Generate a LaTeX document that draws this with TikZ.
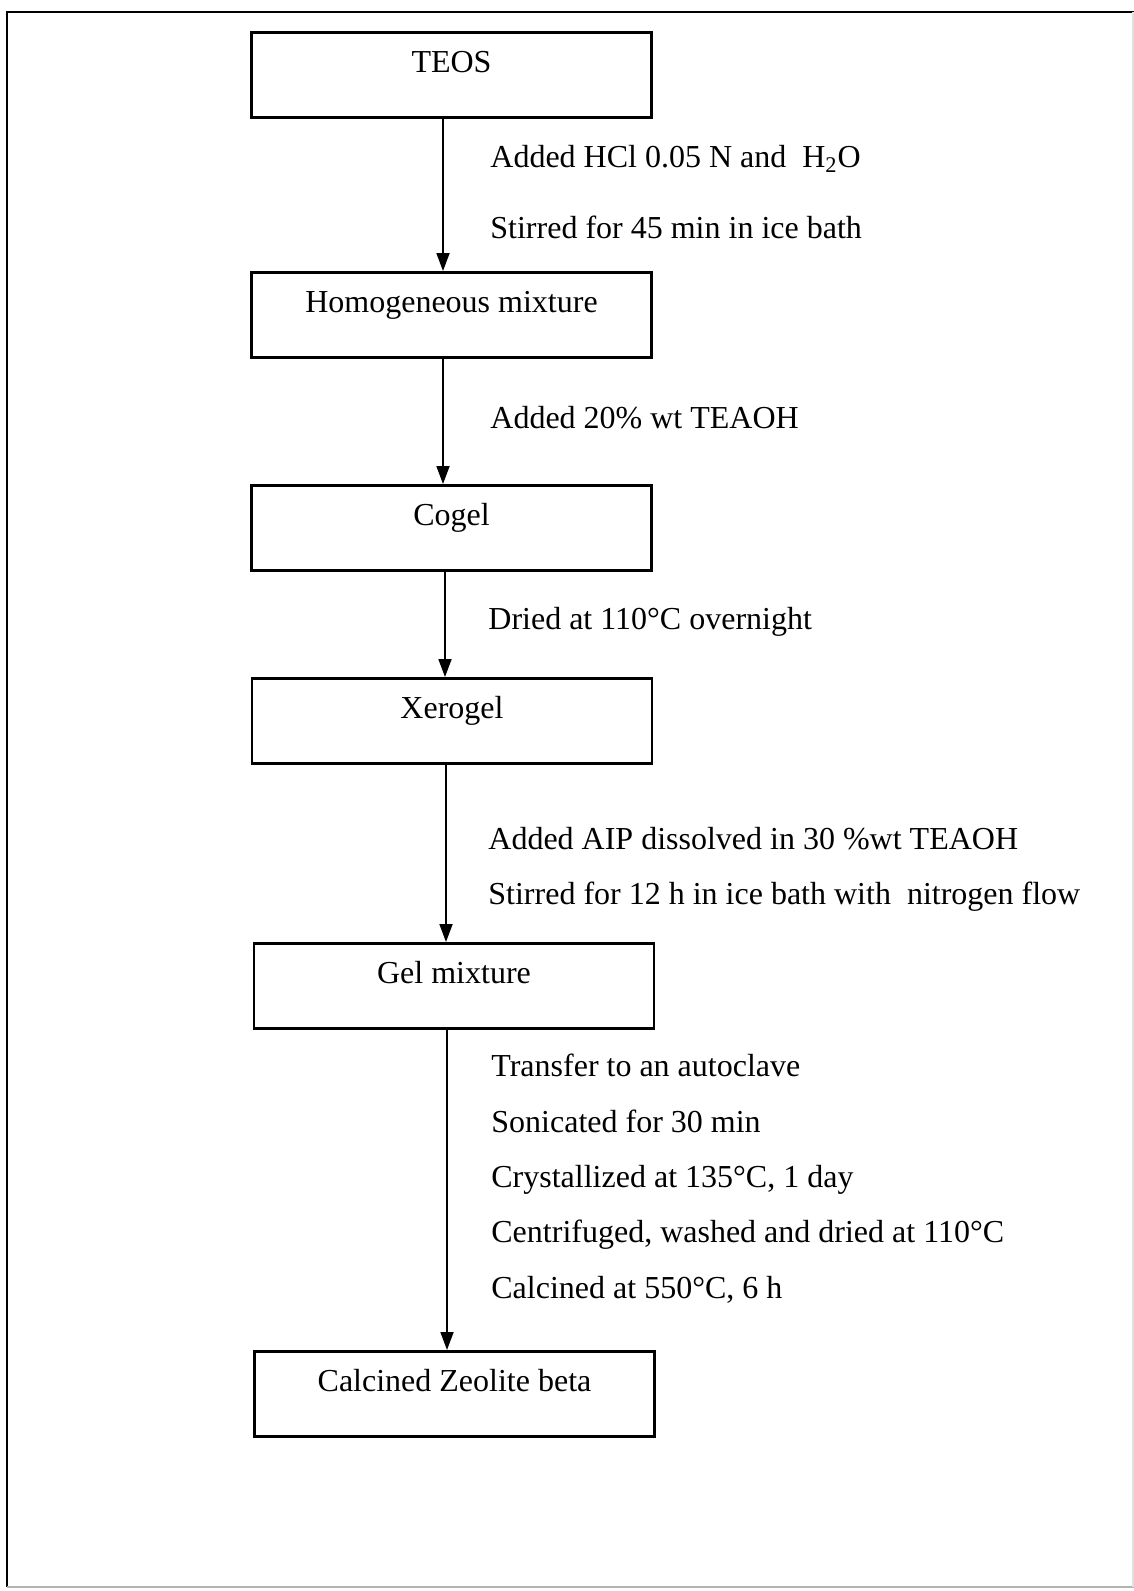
\documentclass[tikz,border=0pt]{standalone}
\usepackage{fontspec}
\setmainfont{Liberation Serif}
\usetikzlibrary{arrows.meta}
\begin{document}
\begin{tikzpicture}[x=0.5pt,y=-0.5pt,
  every node/.style={font=\fontsize{16pt}{19pt}\selectfont},
  stepbox/.style={draw=black,line width=1.3pt,fill=white,anchor=north,
    minimum width=200pt,inner sep=0pt,text height=20pt,text depth=22.5pt},
  lbl/.style={anchor=base west,inner sep=0pt},
  arr/.style={line width=0.9pt,-{Triangle[width=6.5pt,length=9pt]}},
  frameline/.style={line width=1.1pt,black}]
\useasboundingbox (0,0) rectangle (1134,1591);
% outer frame
\draw[frameline] (1134,12) -- (7,12) -- (7,1587);
\draw[line width=0.8pt,black!30] (7,1587) -- (1134,1587);
\draw[line width=0.6pt,black!12] (1133,12) -- (1133,1587);
% boxes
\node[stepbox] (teos)  at (451.5,31)  {TEOS};
\node[stepbox] (homog) at (451.5,271) {Homogeneous mixture};
\node[stepbox] (cogel) at (451.5,484) {Cogel};
\node[stepbox] (xero)  at (452,677)   {Xerogel};
\node[stepbox] (gel)   at (454,942)   {Gel mixture};
\node[stepbox] (calc)  at (454.5,1350) {Calcined Zeolite beta};
% arrows
\draw[arr] ([xshift=-4.25pt]teos.south) -- ([xshift=-4.25pt]teos.south |- homog.north);
\draw[arr] ([xshift=-4.25pt]homog.south) -- ([xshift=-4.25pt]homog.south |- cogel.north);
\draw[arr] ([xshift=-3.25pt]cogel.south) -- ([xshift=-3.25pt]cogel.south |- xero.north);
\draw[arr] ([xshift=-3pt]xero.south) -- ([xshift=-3pt]xero.south |- gel.north);
\draw[arr] ([xshift=-3.5pt]gel.south) -- ([xshift=-3.5pt]gel.south |- calc.north);
% labels
\node[lbl] (l1)  at (490,167)  {Added HCl 0.05 N and\ \ H\textsubscript{2}O};
\node[lbl] (l2)  at (490,238)  {Stirred for 45 min in ice bath};
\node[lbl] (l3)  at (490,428)  {Added 20\% wt TEAOH};
\node[lbl] (l4)  at (488,629)  {Dried at 110°C overnight};
\node[lbl] (l5)  at (488,849)  {Added AIP dissolved in 30 \%wt TEAOH};
\node[lbl] (l6)  at (488,904)  {Stirred for 12 h in ice bath with\ \ nitrogen flow};
\node[lbl] (l7)  at (491,1076) {Transfer to an autoclave};
\node[lbl] (l8)  at (491,1132) {Sonicated for 30 min};
\node[lbl] (l9)  at (491,1187) {Crystallized at 135°C, 1 day};
\node[lbl] (l10) at (491,1242) {Centrifuged, washed and dried at 110°C};
\node[lbl] (l11) at (491,1298) {Calcined at 550°C, 6 h};
\end{tikzpicture}
\end{document}
